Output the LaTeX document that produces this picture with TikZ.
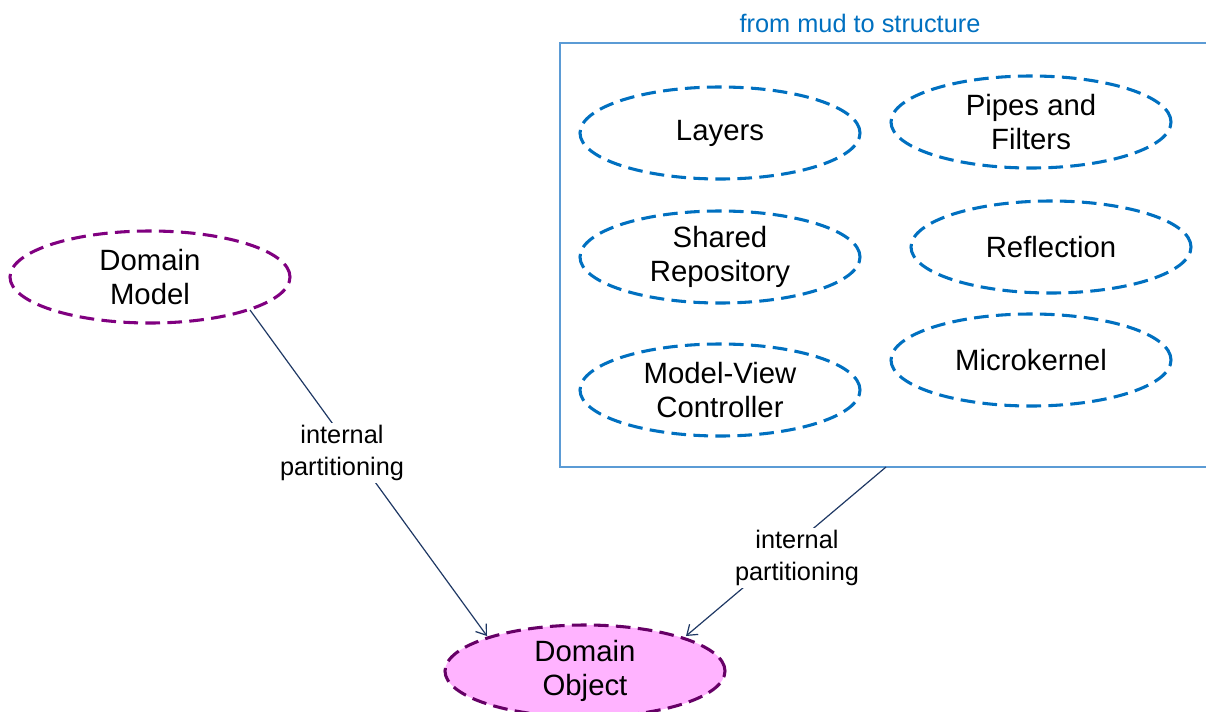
\documentclass[tikz,border=0pt]{standalone}
\usepackage{fontspec}
\setmainfont{Liberation Sans}
\usetikzlibrary{arrows.meta,shapes.geometric}
\definecolor{dpurple}{HTML}{800080}
\definecolor{dopurple}{HTML}{660066}
\definecolor{pinkfill}{HTML}{FFB3FF}
\definecolor{pblue}{HTML}{0070C0}
\definecolor{boxblue}{HTML}{5B9BD5}
\definecolor{navy}{HTML}{1F3864}
\tikzset{
  pat/.style={ellipse, draw=pblue, line width=2.3pt, dash pattern=on 11pt off 5.5pt,
    minimum width=210pt, minimum height=69pt, inner sep=0pt, align=center,
    font=\fontsize{22}{25.5}\selectfont},
  dom/.style={ellipse, draw=dpurple, line width=2.3pt, dash pattern=on 11pt off 5.5pt,
    minimum width=210pt, minimum height=69pt, inner sep=0pt, align=center,
    font=\fontsize{22}{25.5}\selectfont},
  conn/.style={draw=navy, line width=0.9pt, -{Straight Barb[length=7pt,width=10pt]}},
  lbl/.style={fill=white, align=center, inner sep=2pt, font=\fontsize{19}{23.5}\selectfont}
}
\begin{document}
\begin{tikzpicture}[x=0.75pt,y=-0.75pt]
\useasboundingbox (0,0) rectangle (1206,711);
\clip (0,0) rectangle (1206,711);
\draw[boxblue, line width=0.8pt] (560,43) rectangle (1215,467);
\coordinate (boxbot) at (886,467);
\node[text=pblue, font=\fontsize{19}{22}\selectfont] (title) at (860,23) {from mud to structure};
\node[pat] (layers) at (720,133) {Layers};
\node[pat] (pipes) at (1031,122) {Pipes and\\Filters};
\node[pat] (shared) at (720,257) {Shared\\Repository};
\node[pat] (refl) at (1051,247) {Reflection};
\node[pat] (mvc) at (720,390) {Model-View\\Controller};
\node[pat] (micro) at (1031,360) {Microkernel};
\node[dom] (dmodel) at (150,277) {Domain\\Model};
\node[dom, draw=dopurple, fill=pinkfill] (dobj) at (585,671) {Domain\\Object};
\coordinate (dmstart) at (250,310);
\coordinate (a1) at (487,636);
\coordinate (a2) at (686,636);
\draw[conn] (dmstart) -- (a1);
\draw[conn] (boxbot) -- (a2);
\node[lbl] (l1) at (342,453) {internal\\partitioning};
\node[lbl] (l2) at (797,558) {internal\\partitioning};
\end{tikzpicture}
\end{document}
